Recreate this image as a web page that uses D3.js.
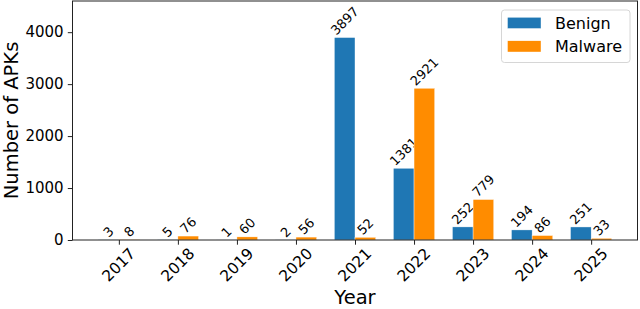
<!DOCTYPE html>
<html>
<head>
<meta charset="utf-8">
<script src="https://cdn.jsdelivr.net/npm/d3@7"></script>
<style>
  body { margin: 0; background: #fff; }
  text { font-family: "DejaVu Sans", sans-serif; fill: #000; }
</style>
</head>
<body>
<div id="chart"></div>
<script>
// data
const years = ["2017", "2018", "2019", "2020", "2021", "2022", "2023", "2024", "2025"];
const benign = [3, 5, 1, 2, 3897, 1381, 252, 194, 251];
const malware = [8, 76, 60, 56, 52, 2921, 779, 86, 33];
const yTicks = [0, 1000, 2000, 3000, 4000];
const seriesNames = ["Benign", "Malware"];
const colors = ["#1f77b4", "#ff8c00"];

const W = 640, H = 309;
const margin = {top: 1, right: 2.5, bottom: 69, left: 72.5};
const barW = 0.35;

const svg = d3.select("#chart").append("svg")
  .attr("width", W)
  .attr("height", H);

// scales
const x = d3.scaleLinear()
  .domain([-0.785, years.length - 1 + 0.785])
  .range([margin.left, W - margin.right]);
const y = d3.scaleLinear()
  .domain([0, 4600])
  .range([H - margin.bottom, margin.top]);

// rotated (-45deg) label whose bounding box is centred on cx
// and whose bottom (or top) edge sits on yEdge
function rotLabel(g, txt, cx, yEdge, size, side) {
  const t = g.append("text")
    .attr("font-size", size)
    .attr("text-anchor", "middle")
    .attr("dominant-baseline", "central")
    .text(txt);
  const L = t.node().getComputedTextLength();
  const half = 0.7071 * (L + 0.75 * size) / 2;
  const cy = side === "bottom" ? yEdge - half : yEdge + half;
  t.attr("transform", `translate(${cx},${cy}) rotate(-45)`);
}

// bars
const series = [benign, malware];
series.forEach((vals, s) => {
  const off = s === 0 ? -barW / 2 : barW / 2;
  svg.append("g")
    .selectAll("rect")
    .data(vals)
    .enter()
    .append("rect")
    .attr("x", (d, i) => x(i + off - barW / 2))
    .attr("width", x(barW) - x(0))
    .attr("y", d => y(d))
    .attr("height", d => y(0) - y(d))
    .attr("fill", colors[s])
    .attr("stroke", "#fff")
    .attr("stroke-width", 0.4);

  const lg = svg.append("g");
  vals.forEach((d, i) => {
    rotLabel(lg, String(d), x(i + off), y(d) - 1.5, 13, "bottom");
  });
});

// axes frame
const x0 = x.range()[0], x1 = x.range()[1];
const yb = y.range()[0], yt = y.range()[1];
svg.append("rect")
  .attr("x", x0).attr("y", yt)
  .attr("width", x1 - x0).attr("height", yb - yt)
  .attr("fill", "none")
  .attr("stroke", "#222")
  .attr("stroke-width", 1);

// y axis
const yAxis = svg.append("g")
  .attr("transform", `translate(${x0},0)`)
  .call(d3.axisLeft(y).tickValues(yTicks).tickFormat(d3.format("d")).tickSize(4.7).tickPadding(4.2));
yAxis.select(".domain").remove();
yAxis.selectAll(".tick line").attr("stroke", "#222");
yAxis.selectAll(".tick text")
  .attr("font-size", 15)
  .attr("font-family", "DejaVu Sans, sans-serif")
  .attr("fill", "#000");

// x axis ticks
const xAxis = svg.append("g")
  .attr("transform", `translate(0,${yb})`)
  .call(d3.axisBottom(x).tickValues(d3.range(years.length)).tickSize(4.7).tickFormat(""));
xAxis.select(".domain").remove();
xAxis.selectAll(".tick line").attr("stroke", "#222");

const xl = svg.append("g");
years.forEach((yr, i) => {
  rotLabel(xl, yr, x(i), yb + 7, 15.5, "top");
});

// axis titles
svg.append("text")
  .attr("transform", `translate(18,${(yb + yt) / 2}) rotate(-90)`)
  .attr("text-anchor", "middle")
  .attr("font-size", 19.5)
  .text("Number of APKs");

svg.append("text")
  .attr("x", (x0 + x1) / 2)
  .attr("y", 304)
  .attr("text-anchor", "middle")
  .attr("font-size", 19.5)
  .text("Year");

// legend
const leg = svg.append("g");
leg.append("rect")
  .attr("x", 501.5).attr("y", 10)
  .attr("width", 128.5).attr("height", 52.5)
  .attr("rx", 3)
  .attr("fill", "#fff").attr("fill-opacity", 0.8)
  .attr("stroke", "#d6d6d6").attr("stroke-width", 1);
seriesNames.forEach((name, i) => {
  const yy = 17.3 + i * 23.5;
  leg.append("rect")
    .attr("x", 507.5).attr("y", yy)
    .attr("width", 33.5).attr("height", 11.2)
    .attr("fill", colors[i])
    .attr("stroke", "#fff").attr("stroke-width", 0.4);
  leg.append("text")
    .attr("x", 555)
    .attr("y", yy + 11.2)
    .attr("font-size", 16)
    .text(name);
});
</script>
</body>
</html>
